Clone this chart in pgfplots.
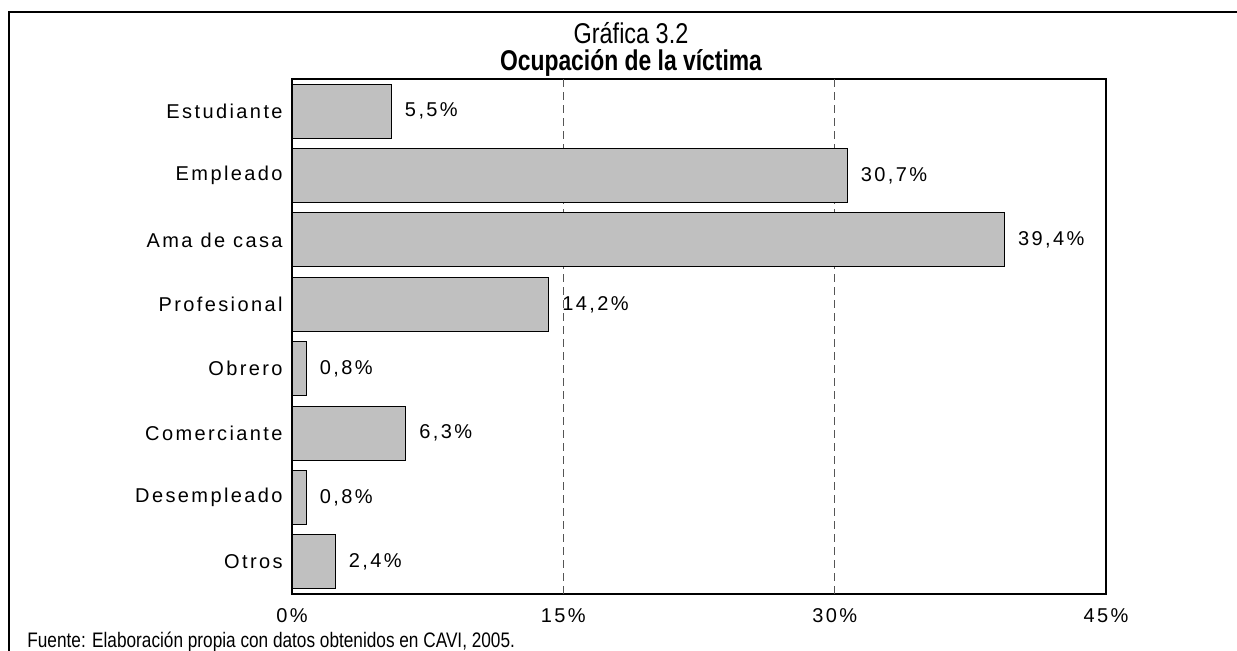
\documentclass[border=0pt]{standalone}
\usepackage{fontspec}
\usepackage{pgfplots}
\pgfplotsset{compat=1.18}
\setmainfont{Liberation Sans}
\newfontfamily\lbl[LetterSpace=12]{Liberation Sans}
\newfontfamily\narrow[FakeStretch=0.82]{Liberation Sans}
\newfontfamily\narrowbold[FakeStretch=0.8]{Liberation Sans Bold}
\definecolor{barfill}{HTML}{C0C0C0}
\definecolor{gridgray}{HTML}{555555}

\begin{document}
\begin{tikzpicture}[x=1pt,y=1pt]
\path[use as bounding box] (0,0) rectangle (618.5,325.5);
\draw[line width=1.2pt] (4.5,-2) -- (4.5,319.6) -- (625,319.6);
\node[anchor=base, inner sep=0pt, font=\narrow\fontsize{14.3}{17}\selectfont] at (315.5,303.75) {Gráfica 3.2};
\node[anchor=base, inner sep=0pt, font=\narrowbold\fontsize{14.3}{17}\selectfont] at (315.5,290.25) {Ocupación de la víctima};
\node[anchor=base west, inner sep=0pt, font=\narrow\fontsize{10.5}{12}\selectfont] at (13.5,1.5) {Fuente: Elaboración propia con datos obtenidos en CAVI, 2005.};
\begin{axis}[
  at={(146pt,28.5pt)}, anchor=south west,
  scale only axis, width=407pt, height=257.5pt,
  xbar, bar width=27pt,
  xmin=0, xmax=45, ymin=0.5, ymax=8.5,
  y dir=reverse,
  ytick={1,2,3,4,5,6,7,8},
  yticklabels={Estudiante,Empleado,Ama de casa,Profesional,Obrero,Comerciante,Desempleado,Otros},
  xtick={0,15,30,45},
  xticklabels={0\%,15\%,30\%,45\%},
  extra x ticks={15,30},
  extra x tick labels={},
  extra x tick style={grid=major, major grid style={gridgray, line width=0.5pt, dash pattern=on 4pt off 2.5pt}},
  major tick length=0pt,
  axis line style={line width=0.6pt},
  ticklabel style={font=\lbl\fontsize{10}{12}\selectfont},
  xticklabel style={anchor=base, inner sep=0pt, yshift=-14.5pt},
  yticklabel style={anchor=east, inner sep=0pt, xshift=-4.5pt},
  point meta=x,
  nodes near coords={\pgfmathprintnumber[assume math mode=true,fixed,fixed zerofill,precision=1,use comma]{\pgfplotspointmeta}\%},
  every node near coord/.append style={anchor=west, inner sep=0pt, xshift=6.5pt, font=\lbl\fontsize{10}{12}\selectfont, black},
]
\addplot[fill=barfill, draw=black, line width=0.5pt] coordinates {
  (5.5,1) (30.7,2) (39.4,3) (14.2,4) (0.8,5) (6.3,6) (0.8,7) (2.4,8)
};
\end{axis}
\end{tikzpicture}
\end{document}
